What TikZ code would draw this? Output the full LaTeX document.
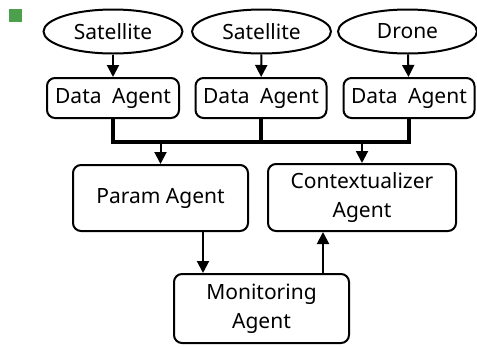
\documentclass[tikz,border=0pt]{standalone}
\usepackage{fontspec}
\setmainfont{Noto Sans}
\usetikzlibrary{arrows.meta,shapes.geometric}
\definecolor{markgreen}{HTML}{4CA04C}
\begin{document}
\begin{tikzpicture}[x=1pt,y=-1pt,
  txt/.style={font=\fontsize{21}{29}\selectfont},
  src/.style={txt,draw,line width=2pt,ellipse,inner sep=0pt,minimum width=139pt,minimum height=44pt},
  abox/.style={txt,draw,line width=2pt,rounded corners=8pt,inner sep=0pt,align=center},
  arr/.style={line width=2pt,-{Triangle[width=12pt,length=12pt]}},
  bus/.style={line width=3.2pt}]
\useasboundingbox (0,0) rectangle (477,346);
\fill[markgreen] (9,9) rectangle (22,22);
\node[src] (s1) at (113,31.5) {Satellite};
\node[src] (s2) at (261.5,31.5) {Satellite};
\node[src] (s3) at (407.5,31.5) {Drone};
\node[abox,minimum width=132pt,minimum height=40pt] (d1) at (113,98) {Data\hspace{0.5em}Agent};
\node[abox,minimum width=131pt,minimum height=40pt] (d2) at (261,98) {Data\hspace{0.5em}Agent};
\node[abox,minimum width=131pt,minimum height=40pt] (d3) at (409,98) {Data\hspace{0.5em}Agent};
\node[abox,minimum width=175pt,minimum height=66pt] (p) at (160.5,198) {Param Agent};
\node[abox,minimum width=188pt,minimum height=67pt] (c) at (362,197.5) {Contextualizer\\Agent};
\node[abox,minimum width=175pt,minimum height=69pt] (m) at (261.5,308.5) {Monitoring\\Agent};
\draw[arr] (s1) -- (d1);
\draw[arr] (s2) -- (d2);
\draw[arr] (s3) -- (d3);
\coordinate (b1) at (113,142);
\coordinate (b2) at (261,142);
\coordinate (b3) at (409,142);
\draw[bus] (d1.south) -- (b1) -- (b3) -- (d3.south);
\draw[bus] (d2.south) -- (b2);
\draw[arr] (p.north |- b1) -- (p.north);
\draw[arr] (c.north |- b1) -- (c.north);
\coordinate (pm) at (203,0);
\coordinate (mc) at (323,0);
\draw[arr] (p.south -| pm) -- (m.north -| pm);
\draw[arr] (m.north -| mc) -- (c.south -| mc);
\end{tikzpicture}
\end{document}
